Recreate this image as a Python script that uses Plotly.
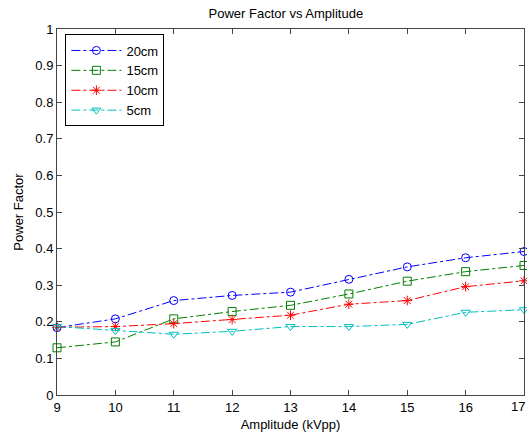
import plotly.graph_objects as go

amplitude = [9, 10, 11, 12, 13, 14, 15, 16, 17]
pf_20cm = [0.184, 0.208, 0.258, 0.272, 0.281, 0.316, 0.350, 0.375, 0.392]
pf_15cm = [0.129, 0.145, 0.208, 0.228, 0.245, 0.276, 0.311, 0.337, 0.354]
pf_10cm = [0.185, 0.187, 0.195, 0.206, 0.218, 0.248, 0.258, 0.296, 0.312]
pf_5cm = [0.187, 0.176, 0.166, 0.174, 0.187, 0.187, 0.193, 0.226, 0.233]

x_ticks = [9, 10, 11, 12, 13, 14, 15, 16, 17]
y_ticks = [0, 0.1, 0.2, 0.3, 0.4, 0.5, 0.6, 0.7, 0.8, 0.9, 1]
y_ticktext = ["0", "0.1", "0.2", "0.3", "0.4", "0.5", "0.6", "0.7", "0.8", "0.9", "1"]

series = [
    ("20cm", pf_20cm, "rgb(0,0,255)", "circle-open"),
    ("15cm", pf_15cm, "rgb(0,128,0)", "square-open"),
    ("10cm", pf_10cm, "rgb(255,0,0)", "asterisk-open"),
    ("5cm", pf_5cm, "rgb(0,191,191)", "triangle-down-open"),
]

fig = go.Figure()
for name, vals, color, sym in series:
    fig.add_trace(go.Scatter(
        x=amplitude, y=vals, name=name, mode="lines+markers",
        line=dict(color=color, width=1, dash="dashdot"),
        marker=dict(symbol=sym, size=8, color=color, line=dict(color=color, width=1)),
        cliponaxis=False,
    ))

axis_color = "rgb(70,70,70)"
fs = 13
fig.update_layout(
    width=527, height=438,
    margin=dict(l=57, r=3, t=29, b=43),
    paper_bgcolor="white", plot_bgcolor="white",
    font=dict(family="Liberation Sans, Arial, sans-serif", size=fs, color="black"),
    title=dict(text="Power Factor vs Amplitude", xref="paper", x=0.49, xanchor="center",
               y=0.97, yanchor="middle", font=dict(size=fs)),
    showlegend=True,
    legend=dict(x=0.018, y=0.985, xanchor="left", yanchor="top",
                bordercolor="black", borderwidth=1, bgcolor="white",
                font=dict(size=fs), tracegroupgap=0, itemwidth=50),
)
# last x tick label sits at the figure edge; keep it fully inside the page
last_tick = x_ticks[-1]
fig.add_annotation(x=last_tick, xref="x", y=0, yref="paper", yanchor="top",
                   xanchor="right", xshift=3, yshift=-2, text=str(last_tick),
                   showarrow=False, font=dict(size=fs, color="black"))
fig.update_xaxes(
    range=[9, 17], tickvals=x_ticks[:-1], ticktext=[str(v) for v in x_ticks[:-1]],
    showgrid=False, zeroline=False, showline=True, linecolor=axis_color, linewidth=1,
    mirror="ticks", ticks="inside", ticklen=5, tickcolor=axis_color,
    title=dict(text="Amplitude (kVpp)", standoff=6, font=dict(size=fs)),
)
fig.update_yaxes(
    range=[0, 1], tickvals=y_ticks, ticktext=y_ticktext,
    showgrid=False, zeroline=False, showline=True, linecolor=axis_color, linewidth=1,
    mirror="ticks", ticks="inside", ticklen=5, tickcolor=axis_color,
    title=dict(text="Power Factor", standoff=8, font=dict(size=fs)),
)

fig.write_html("out.html")
